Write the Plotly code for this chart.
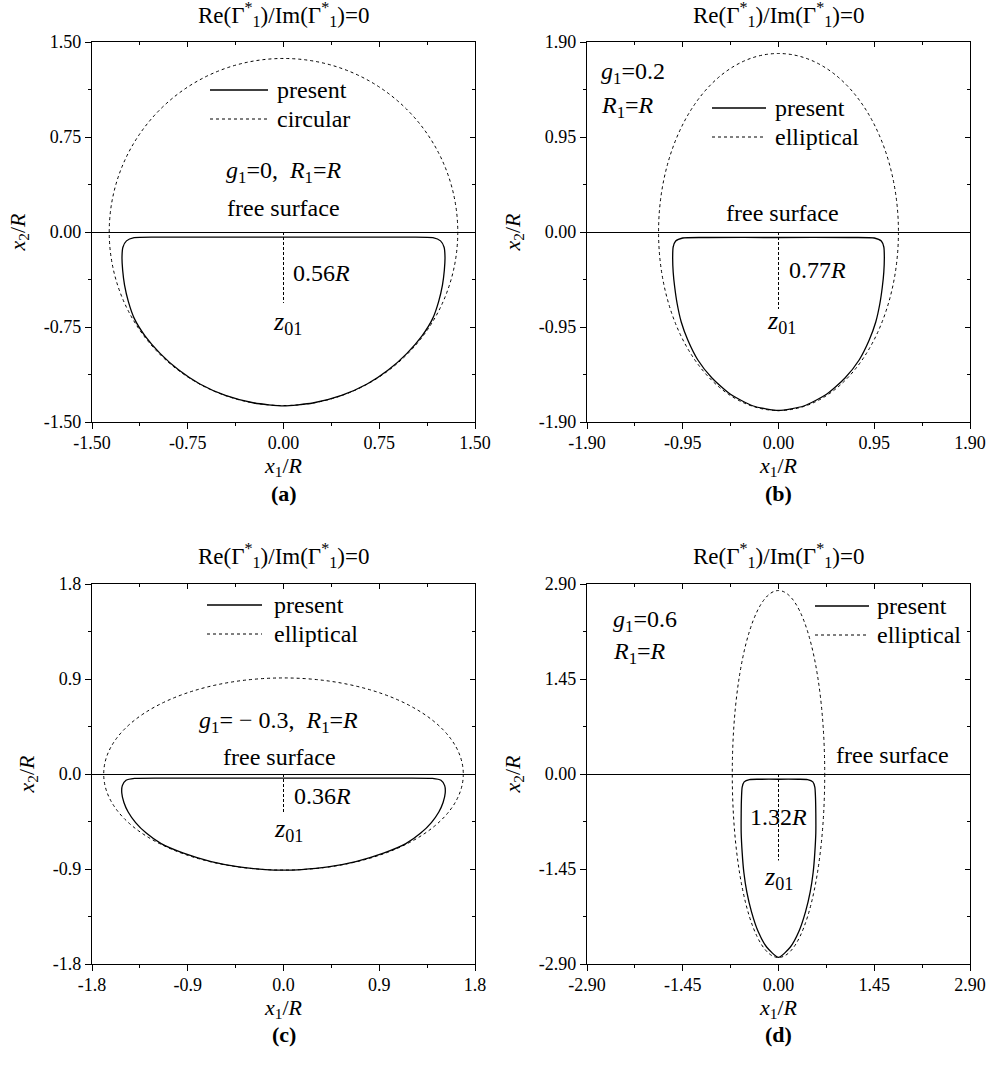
import plotly.graph_objects as go

FONT = "Liberation Serif, Times New Roman, Times, serif"

# ---------------- data ----------------
AXIS_MAX = [1.50, 1.90, 1.8, 2.90]
TICK_VALS = [
    [-1.5, -0.75, 0.0, 0.75, 1.5],
    [-1.9, -0.95, 0.0, 0.95, 1.9],
    [-1.8, -0.9, 0.0, 0.9, 1.8],
    [-2.9, -1.45, 0.0, 1.45, 2.9],
]
TICK_TEXT = [
    ["-1.50", "-0.75", "0.00", "0.75", "1.50"],
    ["-1.90", "-0.95", "0.00", "0.95", "1.90"],
    ["-1.8", "-0.9", "0.0", "0.9", "1.8"],
    ["-2.90", "-1.45", "0.00", "1.45", "2.90"],
]
# semi-axes of the dotted reference (circular / elliptical) inclusion
ELLIPSE_A = [1.365, 1.19, 1.69, 0.70]
ELLIPSE_B = [1.37, 1.785, 0.91, 2.80]
REF_NAMES = ["circular", "elliptical", "elliptical", "elliptical"]
# depth of the centre z01 below the free surface
Z01_X = [0.0, 0.0, 0.0, 0.0]
Z01_DEPTH = [0.56, 0.77, 0.36, 1.32]
DEPTH_LABELS = ["0.56", "0.77", "0.36", "1.32"]
G1_VALUES = ["0", "0.2", " − 0.3", "0.6"]
PANEL_LABELS = ["(a)", "(b)", "(c)", "(d)"]

# "present" contours (closed)
PRESENT_A_X = [0, 0.6, 1.0, 1.17, 1.23, 1.258, 1.265, 1.26, 1.245, 1.215, 1.17, 1.085, 0.965, 0.82, 0.655, 0.455, 0.23, 0,
               -0.23, -0.455, -0.655, -0.82, -0.965, -1.085, -1.17, -1.215, -1.245, -1.26, -1.265, -1.258, -1.23, -1.17, -1.0, -0.6, 0]
PRESENT_A_Y = [-0.04, -0.04, -0.04, -0.045, -0.07, -0.12, -0.2, -0.3, -0.42, -0.55, -0.68, -0.82, -0.96, -1.09, -1.2, -1.29, -1.35, -1.372,
               -1.35, -1.29, -1.2, -1.09, -0.96, -0.82, -0.68, -0.55, -0.42, -0.3, -0.2, -0.12, -0.07, -0.045, -0.04, -0.04, -0.04]

PRESENT_B_X = [0, 0.7, 0.95, 1.02, 1.045, 1.05, 1.045, 1.03, 1.005, 0.965, 0.9, 0.8, 0.66, 0.48, 0.25, 0,
               -0.25, -0.48, -0.66, -0.8, -0.9, -0.965, -1.005, -1.03, -1.045, -1.05, -1.045, -1.02, -0.95, -0.7, 0]
PRESENT_B_Y = [-0.055, -0.055, -0.06, -0.09, -0.15, -0.25, -0.4, -0.55, -0.72, -0.9, -1.08, -1.28, -1.46, -1.62, -1.74, -1.785,
               -1.74, -1.62, -1.46, -1.28, -1.08, -0.9, -0.72, -0.55, -0.4, -0.25, -0.15, -0.09, -0.06, -0.055, -0.055]

PRESENT_C_X = [0, 0.9, 1.4, 1.48, 1.515, 1.52, 1.5, 1.46, 1.39, 1.29, 1.15, 0.94, 0.68, 0.42, 0.17, 0,
               -0.17, -0.42, -0.68, -0.94, -1.15, -1.29, -1.39, -1.46, -1.5, -1.52, -1.515, -1.48, -1.4, -0.9, 0]
PRESENT_C_Y = [-0.04, -0.04, -0.042, -0.06, -0.11, -0.18, -0.27, -0.36, -0.46, -0.56, -0.66, -0.75, -0.83, -0.88, -0.905, -0.91,
               -0.905, -0.88, -0.83, -0.75, -0.66, -0.56, -0.46, -0.36, -0.27, -0.18, -0.11, -0.06, -0.042, -0.04, -0.04]

PRESENT_D_X = [0, 0.3, 0.44, 0.52, 0.55, 0.56, 0.565, 0.565, 0.55, 0.525, 0.48, 0.41, 0.31, 0.18, 0,
               -0.18, -0.31, -0.41, -0.48, -0.525, -0.55, -0.565, -0.565, -0.56, -0.55, -0.52, -0.44, -0.3, 0]
PRESENT_D_Y = [-0.08, -0.08, -0.085, -0.12, -0.2, -0.35, -0.6, -0.9, -1.2, -1.5, -1.8, -2.1, -2.4, -2.64, -2.8,
               -2.64, -2.4, -2.1, -1.8, -1.5, -1.2, -0.9, -0.6, -0.35, -0.2, -0.12, -0.085, -0.08, -0.08]

PRESENT_X = [PRESENT_A_X, PRESENT_B_X, PRESENT_C_X, PRESENT_D_X]
PRESENT_Y = [PRESENT_A_Y, PRESENT_B_Y, PRESENT_C_Y, PRESENT_D_Y]

# ---------------- layout (pixel positions) ----------------
W, H = 990, 1066
X_DOM = [(92 / W, 475 / W), (587 / W, 970 / W), (92 / W, 475 / W), (587 / W, 970 / W)]
Y_DOM = [(1 - 422 / H, 1 - 42 / H), (1 - 422 / H, 1 - 42 / H), (1 - 964 / H, 1 - 584 / H), (1 - 964 / H, 1 - 584 / H)]
TITLE_Y = [14, 14, 555, 555]
LABEL_Y = [494, 494, 1034, 1034]
# legend: line start, line end, text start, first row y, row gap
LEGEND_BOX = [(210, 268, 275, 90, 29), (712, 766, 773, 108, 29), (207, 262, 272, 605, 29), (815, 869, 875, 606, 29)]

BLACK = "#000000"
TXT = 24

fig = go.Figure()
annotations = []
shapes = []


def ann(text, x, y, xref, yref, xanchor="center", size=TXT):
    return dict(text=text, x=x, y=y, xref=xref, yref=yref, xanchor=xanchor, yanchor="middle",
                showarrow=False, font=dict(family=FONT, size=size, color=BLACK))


for i in range(4):
    n = "" if i == 0 else str(i + 1)
    tn = str(i + 5)
    xr, yr = "x" + n, "y" + n
    xt, yt = "x" + tn, "y" + tn
    m = AXIS_MAX[i]
    step = TICK_VALS[i][1] - TICK_VALS[i][0]

    fig.add_trace(go.Scatter(
        x=PRESENT_X[i], y=PRESENT_Y[i], mode="lines", name="present",
        line=dict(color=BLACK, width=1.3, shape="spline", smoothing=0.6),
        xaxis=xr, yaxis=yr, showlegend=False, hoverinfo="skip"))
    # dashed segment from the free surface to z01 (on the frame axes, same ranges)
    fig.add_trace(go.Scatter(
        x=[Z01_X[i], Z01_X[i]], y=[0, -Z01_DEPTH[i]], mode="lines", name="depth",
        line=dict(color=BLACK, width=1, dash="3px,2px"),
        xaxis=xt, yaxis=yt, showlegend=False, hoverinfo="skip"))

    # dotted circular / elliptical reference inclusion
    shapes.append(dict(type="circle", xref=xr, yref=yr,
                       x0=-ELLIPSE_A[i], x1=ELLIPSE_A[i], y0=-ELLIPSE_B[i], y1=ELLIPSE_B[i],
                       line=dict(color=BLACK, width=1, dash="dot"), layer="above"))

    axis_common = dict(
        range=[-m, m], tickmode="array", tickvals=TICK_VALS[i], ticktext=TICK_TEXT[i],
        ticks="outside", ticklen=6, tickwidth=1, tickcolor=BLACK,
        showline=True, linecolor=BLACK, linewidth=1.2, mirror=True,
        showgrid=False, tickfont=dict(family=FONT, size=18, color=BLACK),
        minor=dict(tickmode="linear", tick0=0, dtick=step / 2, ticks="outside",
                   ticklen=3, tickwidth=1, tickcolor=BLACK, showgrid=False),
        fixedrange=True, automargin=False,
    )
    fig.layout["xaxis" + n] = dict(
        axis_common, domain=X_DOM[i], anchor=yr, zeroline=False, ticklabelstandoff=-2,
        title=dict(text="<i>x</i><sub>1</sub>/<i>R</i>", font=dict(family=FONT, size=22, color=BLACK), standoff=0))
    fig.layout["yaxis" + n] = dict(
        axis_common, domain=Y_DOM[i], anchor=xr, zeroline=True, zerolinecolor=BLACK, zerolinewidth=1.2,
        title=dict(text="<i>x</i><sub>2</sub>/<i>R</i>", font=dict(family=FONT, size=22, color=BLACK), standoff=12))

    # inward ticks on the top and right frame (overlaying axes, no labels)
    frame_common = dict(
        range=[-m, m], tickmode="array", tickvals=TICK_VALS[i], showticklabels=False,
        ticks="inside", ticklen=5, tickwidth=1, tickcolor=BLACK, showline=False,
        showgrid=False, zeroline=False, fixedrange=True, automargin=False,
        minor=dict(tickmode="linear", tick0=0, dtick=step / 2, ticks="inside",
                   ticklen=3, tickwidth=1, tickcolor=BLACK, showgrid=False),
    )
    fig.layout["xaxis" + tn] = dict(frame_common, overlaying=xr, side="top", anchor=yr)
    fig.layout["yaxis" + tn] = dict(frame_common, overlaying=yr, side="right", anchor=xr)

    # legend (drawn inside each panel)
    l0, l1, tx, ly, gap = LEGEND_BOX[i]
    for k, (name, dash, lw) in enumerate([("present", "solid", 1.3), (REF_NAMES[i], "dot", 1)]):
        yy = 1 - (ly + k * gap) / H
        shapes.append(dict(type="line", xref="paper", yref="paper", x0=l0 / W, x1=l1 / W, y0=yy, y1=yy,
                           line=dict(color=BLACK, width=lw, dash=dash)))
        annotations.append(ann(name, tx / W, yy, "paper", "paper", xanchor="left"))

    cx = (X_DOM[i][0] + X_DOM[i][1]) / 2
    annotations.append(ann("Re(Γ<sup>*</sup><sub>1</sub>)/Im(Γ<sup>*</sup><sub>1</sub>)=0",
                           cx, 1 - TITLE_Y[i] / H, "paper", "paper", size=23))
    annotations.append(ann("<b>" + PANEL_LABELS[i] + "</b>", cx, 1 - LABEL_Y[i] / H, "paper", "paper", size=22))
    annotations.append(ann(DEPTH_LABELS[i] + "<i>R</i>", [0.06, 0.08, 0.08, 0.0][i], [-0.32, -0.38, -0.21, -0.66][i],
                           xr, yr, xanchor=["left", "left", "left", "center"][i]))
    annotations.append(ann("<i>z</i><sub>01</sub>", [0.03, 0.03, 0.05, 0.0][i], [-0.72, -0.90, -0.53, -1.59][i],
                           xr, yr, size=26))
    annotations.append(ann("free surface", [0.0, 0.04, -0.04, 1.73][i], [0.19, 0.19, 0.16, 0.29][i], xr, yr))

g_txt = lambda g: "<i>g</i><sub>1</sub>=" + g
r_txt = "<i>R</i><sub>1</sub>=<i>R</i>"
annotations += [
    ann(g_txt(G1_VALUES[0]) + ",  " + r_txt, 0.0, 0.47, "x", "y"),
    ann(g_txt(G1_VALUES[1]), -1.78, 1.59, "x2", "y2", xanchor="left"),
    ann(r_txt, -1.78, 1.25, "x2", "y2", xanchor="left"),
    ann(g_txt(G1_VALUES[2]) + ",  " + r_txt, -0.05, 0.49, "x3", "y3"),
    ann(g_txt(G1_VALUES[3]), -2.53, 2.33, "x4", "y4", xanchor="left"),
    ann(r_txt, -2.53, 1.85, "x4", "y4", xanchor="left"),
]

fig.update_layout(
    width=W, height=H, margin=dict(l=0, r=0, t=0, b=0),
    paper_bgcolor="white", plot_bgcolor="white",
    font=dict(family=FONT, size=TXT, color=BLACK),
    annotations=annotations, shapes=shapes, showlegend=False,
)

fig.write_html("out.html")
